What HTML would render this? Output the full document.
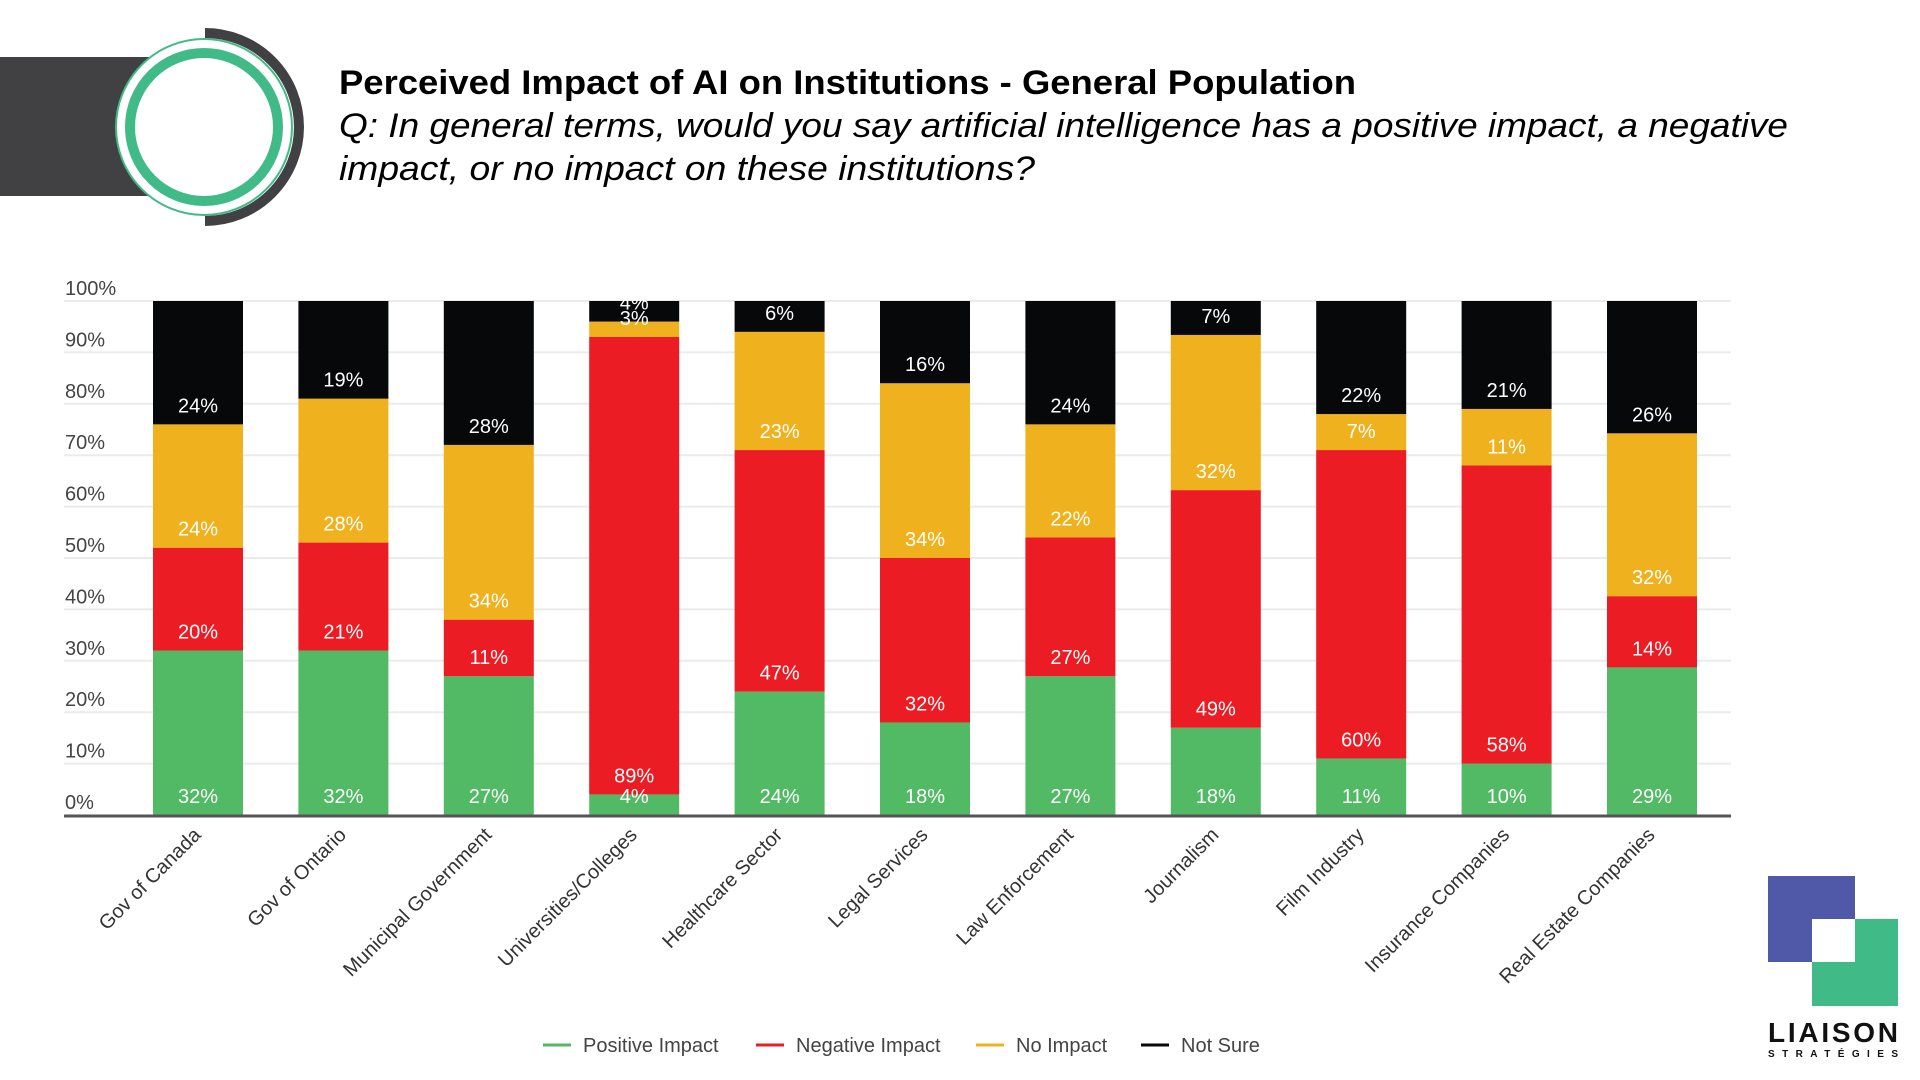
<!DOCTYPE html>
<html><head><meta charset="utf-8"><style>
html,body{margin:0;padding:0;background:#fff;}
svg{display:block;font-family:"Liberation Sans",sans-serif;}
</style></head><body>
<svg id="chart" width="1920" height="1080" viewBox="0 0 1920 1080">
  <g>
    <rect x="0" y="57" width="165" height="139" fill="#414042"/>
    <circle cx="204" cy="127" r="88" fill="#fff" stroke="#40BB88" stroke-width="2"/>
    <path d="M205,33 A94,94 0 0 1 205,221" fill="none" stroke="#414042" stroke-width="10"/>
    <circle cx="204" cy="127" r="74" fill="#fff" stroke="#40BB88" stroke-width="10"/>
  </g>
  <text x="339" y="94" font-size="34" font-weight="bold" fill="#000" textLength="1017" lengthAdjust="spacingAndGlyphs">Perceived Impact of AI on Institutions - General Population</text>
  <text x="339" y="137" font-size="34" font-style="italic" fill="#000" textLength="1449" lengthAdjust="spacingAndGlyphs">Q: In general terms, would you say artificial intelligence has a positive impact, a negative</text>
  <text x="339" y="180" font-size="34" font-style="italic" fill="#000" textLength="696" lengthAdjust="spacingAndGlyphs">impact, or no impact on these institutions?</text>
  <g id="grid"></g>
  <g id="bars"></g>
  <g id="labels"></g>
  <g id="xlabels"></g>
  <g id="legend"></g>
  <g>
    <rect x="1768" y="876" width="87" height="86" fill="#5059A8"/>
    <rect x="1812" y="919" width="86" height="87" fill="#40BB88"/>
    <rect x="1812" y="919" width="43" height="43" fill="#fff"/>
    <text x="1768" y="1042" font-size="28" font-weight="bold" fill="#111" textLength="130" lengthAdjust="spacing">LIAISON</text>
    <text x="1768" y="1057" font-size="10" font-weight="bold" fill="#111" textLength="130" lengthAdjust="spacing">STRATÉGIES</text>
  </g>
</svg>
<script>
const categories = ["Gov of Canada","Gov of Ontario","Municipal Government","Universities/Colleges","Healthcare Sector","Legal Services","Law Enforcement","Journalism","Film Industry","Insurance Companies","Real Estate Companies"];
const positiveImpact = [32,32,27,4,24,18,27,18,11,10,29];
const negativeImpact = [20,21,11,89,47,32,27,49,60,58,14];
const noImpact = [24,28,34,3,23,34,22,32,7,11,32];
const notSure = [24,19,28,4,6,16,24,7,22,21,26];
const seriesNames = ["Positive Impact","Negative Impact","No Impact","Not Sure"];
const yTicks = [0,10,20,30,40,50,60,70,80,90,100];

const NS = "http://www.w3.org/2000/svg";
const colors = ["#52BA64","#EC1C24","#F0B11E","#070809"];
const series = [positiveImpact, negativeImpact, noImpact, notSure];
const X0 = 64, X1 = 1731, Y0 = 815, Y100 = 301;
const firstBar = 153, pitch = 145.4, barW = 90;
function yScale(p){ return Y0 - (Y0 - Y100) * p / 100; }
function xScale(i){ return firstBar + i * pitch; }
function mk(tag, attrs, parent){ const e = document.createElementNS(NS, tag); for (const k in attrs) e.setAttribute(k, attrs[k]); parent.appendChild(e); return e; }

const grid = document.getElementById('grid');
yTicks.forEach(t => {
  const y = yScale(t);
  if (t > 0) {
    const l = mk('line', {x1: X0, x2: X1, y1: y, y2: y, stroke: '#ebebeb', 'stroke-width': 2}, grid);
    
    
  }
  const tx = mk('text', {x: 65, y: y - 6, 'font-size': 20, fill: '#444'}, grid);
  tx.textContent = t + '%';
  
  
});

const bars = document.getElementById('bars');
const labels = document.getElementById('labels');
const xl = document.getElementById('xlabels');
categories.forEach((c, i) => {
  const total = series.reduce((s, a) => s + a[i], 0);
  let cum = 0;
  const x = xScale(i);
  series.forEach((arr, s) => {
    const v = arr[i] / total * 100;
    const yb = yScale(cum), yt = yScale(cum + v);
    const r = mk('rect', {x: x, y: yt, width: barW, height: yb - yt, fill: colors[s]}, bars);
    
    
    const t = mk('text', {x: x + barW / 2, y: yb - 12, 'font-size': 20, fill: '#fff', 'text-anchor': 'middle'}, labels);
    t.textContent = arr[i] + '%';
    
    
    cum += v;
  });
  const cx = x + barW / 2 + 4;
  const lab = mk('text', {x: cx, y: 836, 'font-size': 20, fill: '#333', 'text-anchor': 'end', transform: 'rotate(-45 ' + cx + ' 836)'}, xl);
  lab.textContent = c;
  
  
});
const axis = mk('line', {x1: X0, x2: X1, y1: Y0 + 1, y2: Y0 + 1, stroke: '#555', 'stroke-width': 3}, grid.parentNode);



const legend = document.getElementById('legend');
const lx = [543, 756, 976, 1141];
seriesNames.forEach((n, s) => {
  const g = mk('g', {}, legend);
  
  
  mk('line', {x1: lx[s], x2: lx[s] + 28, y1: 1045, y2: 1045, stroke: colors[s], 'stroke-width': 3}, g);
  const t = mk('text', {x: lx[s] + 40, y: 1052, 'font-size': 20, fill: '#444'}, g);
  t.textContent = n;
});
</script>
</body></html>
